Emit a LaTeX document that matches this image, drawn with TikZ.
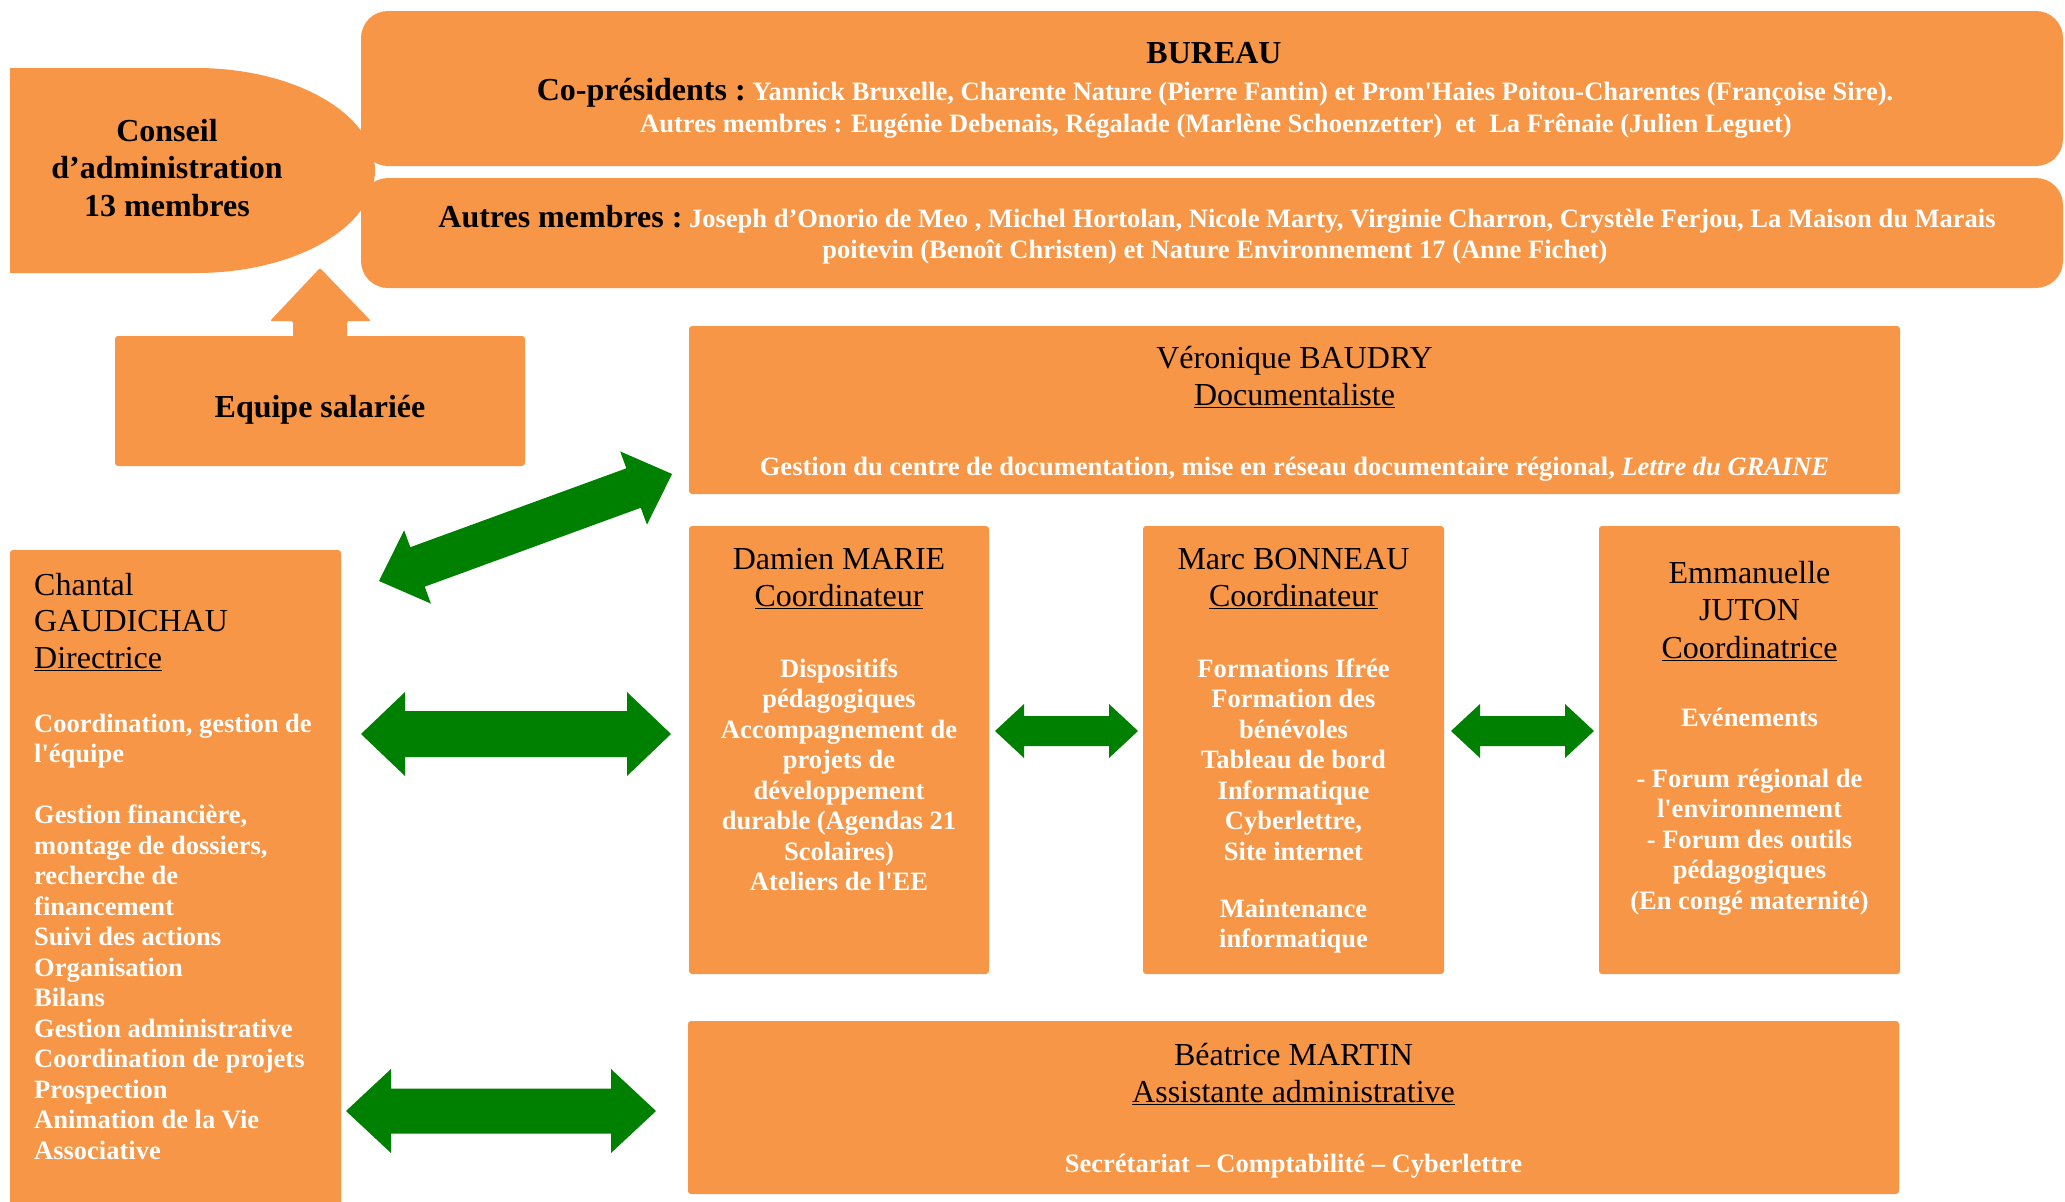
\documentclass[tikz,border=0pt]{standalone}
\usepackage{fontspec}
\setmainfont{Liberation Serif}
\definecolor{boxorange}{HTML}{F79646}
\definecolor{arrgreen}{HTML}{008000}
\newcommand\garrow[7]{% tail x, tail y, angle, length, head length, head half width, shaft half width
  \fill[arrgreen, shift={(#1,#2)}, rotate=#3] (0,0) -- (#5,-#6) -- (#5,-#7) -- ({#4-#5},-#7) -- ({#4-#5},-#6) -- (#4,0) -- ({#4-#5},#6) -- ({#4-#5},#7) -- (#5,#7) -- (#5,#6) -- cycle;}
\tikzset{
  obox/.style={fill=boxorange, draw=none, rounded corners=3pt, inner sep=0pt, outer sep=0pt, anchor=north west},
  bigbox/.style={fill=boxorange, draw=none, rounded corners=27pt, inner sep=0pt, outer sep=0pt, anchor=north west},
  nametext/.style={font=\fontsize{32}{37.5}\selectfont, inner sep=0pt, align=center, anchor=north, text=black},
  worktext/.style={font=\fontsize{26.5}{30.5}\selectfont\bfseries, inner sep=0pt, align=center, anchor=north, text=white},
  linetext/.style={inner sep=0pt, anchor=base},
}
\begin{document}
\begin{tikzpicture}[x=1pt,y=-1pt]
\useasboundingbox (0,0) rectangle (2065,1202);
% Conseil d'administration
\fill[boxorange] (10,68) -- (196,68) arc[start angle=-90,end angle=90,x radius=179,y radius=102.5] -- (10,273) -- cycle;
\node[font=\fontsize{32}{37.5}\selectfont\bfseries, align=center, inner sep=0pt, anchor=north] (conseil) at (167,114.75) {\strut Conseil\\d’administration\\13 membres};
% Bureau boxes
\node[bigbox, minimum width=1702pt, minimum height=155pt] (bureau) at (361,11) {};
\node[bigbox, minimum width=1702pt, minimum height=110pt] (autres) at (361,178) {};
\node[linetext, font=\fontsize{32}{37}\selectfont\bfseries] (bur1) at (1214,63) {BUREAU};
\node[linetext] (bur2) at (1215,100) {\fontsize{32}{37}\selectfont\bfseries Co-présidents :\fontsize{26.5}{30}\selectfont\color{white}\ Yannick Bruxelle, Charente Nature (Pierre Fantin) et Prom\textquotesingle Haies Poitou-Charentes (Françoise Sire).};
\node[linetext, font=\fontsize{26.5}{30}\selectfont\bfseries, text=white] (bur3) at (1216,132) {Autres membres : Eugénie Debenais, Régalade (Marlène Schoenzetter) \ et \ La Frênaie (Julien Leguet)};
\node[linetext] (aut1) at (1217,227) {\fontsize{32}{37}\selectfont\bfseries Autres membres :\fontsize{26.5}{30}\selectfont\color{white}\ Joseph d’Onorio de Meo , Michel Hortolan, Nicole Marty, Virginie Charron, Crystèle Ferjou, La Maison du Marais};
\node[linetext, font=\fontsize{26.5}{30}\selectfont\bfseries, text=white] (aut2) at (1215,258) {poitevin (Benoît Christen) et Nature Environnement 17 (Anne Fichet)};
% Equipe salariee
\fill[boxorange, rounded corners=2pt] (293,337) -- (293,321) -- (270,321) -- (320,268) -- (371,321) -- (347,321) -- (347,337) -- cycle;
\node[obox, minimum width=410pt, minimum height=130pt] (equipe) at (115,336) {};
\node[linetext, font=\fontsize{32}{37}\selectfont\bfseries] (equipetxt) at (320,417) {Equipe salariée};
% Veronique
\node[obox, minimum width=1211pt, minimum height=168pt] (ver) at (689,326) {};
\node[nametext] (vername) at (1294.5,341.75) {\strut Véronique BAUDRY\\\underline{Documentaliste}};
\node[linetext, font=\fontsize{26.5}{30}\selectfont\bfseries, text=white] (vertxt) at (1294.5,475) {Gestion du centre de documentation, mise en réseau documentaire régional, \textit{Lettre du GRAINE}};
% Damien
\node[obox, minimum width=300pt, minimum height=448pt] (dam) at (689,526) {};
\node[nametext] (damname) at (839,542.75) {\strut Damien MARIE\\\underline{Coordinateur}};
\node[worktext] (damtxt) at (839,655.65) {\strut Dispositifs\\pédagogiques\\Accompagnement de\\projets de\\développement\\durable (Agendas 21\\Scolaires)\\Ateliers de l\textquotesingle EE};
% Marc
\node[obox, minimum width=301pt, minimum height=448pt] (marc) at (1143,526) {};
\node[nametext] (marcname) at (1293.5,542.75) {\strut Marc BONNEAU\\\underline{Coordinateur}};
\node[worktext] (marctxt) at (1293.5,655.65) {\strut Formations Ifrée\\Formation des\\bénévoles\\Tableau de bord\\Informatique\\Cyberlettre,\\Site internet\\[26.5pt]Maintenance\\informatique};
% Emmanuelle
\node[obox, minimum width=301pt, minimum height=448pt] (emm) at (1599,526) {};
\node[nametext] (emmname) at (1749.5,556.75) {\strut Emmanuelle\\JUTON\\\underline{Coordinatrice}};
\node[worktext] (emmtxt) at (1749.5,704.65) {\strut Evénements\\[30.5pt]- Forum régional de\\l\textquotesingle environnement\\- Forum des outils\\pédagogiques\\(En congé maternité)};
% Beatrice
\node[obox, minimum width=1211pt, minimum height=173pt] (bea) at (688,1021) {};
\node[nametext] (beaname) at (1293.5,1038.75) {\strut Béatrice MARTIN\\\underline{Assistante administrative}};
\node[linetext, font=\fontsize{26.5}{30}\selectfont\bfseries, text=white] (beatxt) at (1293.5,1172) {Secrétariat – Comptabilité – Cyberlettre};
% Chantal
\node[obox, minimum width=331pt, minimum height=670pt] (chantal) at (10,550) {};
\node[nametext, align=left, anchor=north west, font=\fontsize{32}{36.5}\selectfont] (chname) at (34,569.5) {\strut Chantal\\GAUDICHAU\\\underline{Directrice}};
\node[worktext, align=left, anchor=north west] (chtxt) at (34,710.65) {\strut Coordination, gestion de\\l\textquotesingle équipe\\[30.5pt]Gestion financière,\\montage de dossiers,\\recherche de\\financement\\Suivi des actions\\Organisation\\Bilans\\Gestion administrative\\Coordination de projets\\Prospection\\Animation de la Vie\\Associative};
% green arrows
\garrow{379}{581}{20.06}{312}{41}{39}{21}
\garrow{361}{734}{0}{310}{44}{42}{23}
\garrow{346}{1111}{0}{310}{45}{42}{22.5}
\garrow{995}{731}{0}{143}{29}{27}{15}
\garrow{1451}{731}{0}{143}{29}{27}{15}
\end{tikzpicture}
\end{document}
